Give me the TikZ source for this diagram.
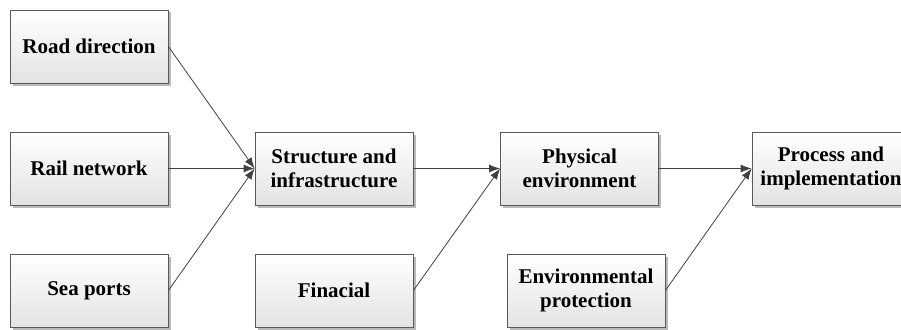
\documentclass[tikz,border=0pt]{standalone}
\usepackage{fontspec}
\setmainfont{Liberation Serif}
\usetikzlibrary{shadows,arrows.meta}
\tikzset{
  box/.style={draw=gray!70!black, line width=0.8pt, minimum width=158pt, minimum height=73pt,
    inner sep=2pt, align=center, top color=white, bottom color=gray!22,
    font=\fontsize{21}{24}\selectfont\bfseries,
    drop shadow={shadow xshift=2.5pt, shadow yshift=-2.5pt, fill=gray!55, opacity=1}},
  conn/.style={draw=black!75, line width=0.8pt, -{Latex[length=11pt,width=8pt]}}
}
\begin{document}
\begin{tikzpicture}[x=1pt,y=-1pt]
\useasboundingbox (0,0) rectangle (901,329);
\node[box] (road) at (89,46.5) {Road direction};
\node[box] (rail) at (89,168.5) {Rail network};
\node[box] (sea) at (89,290.5) {Sea ports};
\node[box] (struct) at (334,168.5) {Structure and\\infrastructure};
\node[box] (fin) at (334,290.5) {Finacial};
\node[box] (phys) at (579.5,168.5) {Physical\\environment};
\node[box] (env) at (586,290.5) {Environmental\\protection};
\node[box] (proc) at (831,168.5) {Process and\\implementation};
\draw[conn] (road.east) -- (struct.west);
\draw[conn] (rail.east) -- (struct.west);
\draw[conn] (sea.east) -- (struct.west);
\draw[conn] (struct.east) -- (phys.west);
\draw[conn] (fin.east) -- (phys.west);
\draw[conn] (phys.east) -- (proc.west);
\draw[conn] (env.east) -- (proc.west);
\end{tikzpicture}
\end{document}
